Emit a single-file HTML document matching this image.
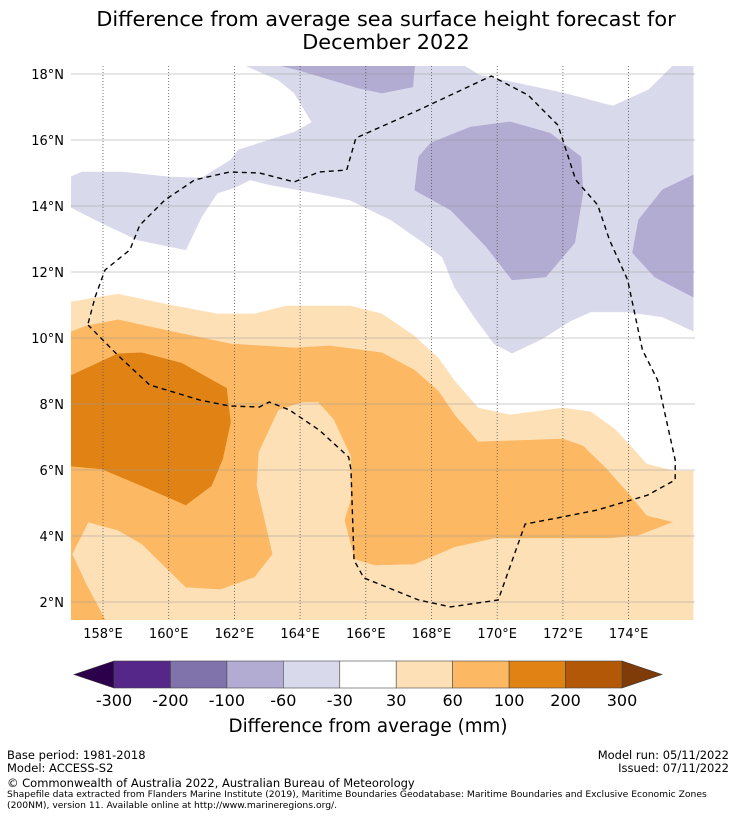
<!DOCTYPE html>
<html><head><meta charset="utf-8">
<style>
body{margin:0;background:#fff;font-family:"DejaVu Sans","Liberation Sans",sans-serif;}
#wrap{position:relative;width:736px;height:816px;overflow:hidden;}
.t{position:absolute;white-space:nowrap;color:#000;}
</style></head>
<body>
<div id="wrap">
<div class="t" style="left:0;width:772px;top:8px;text-align:center;font-size:20.8px;line-height:23px;">Difference from average sea surface height forecast for<br>December 2022</div>
<svg id="map" width="736" height="816" style="position:absolute;left:0;top:0"></svg>
<div class="t" style="left:0;width:736px;top:716px;text-align:center;font-size:18.3px;">Difference from average (mm)</div>
<div class="t" style="left:7px;top:748px;font-size:11.5px;">Base period: 1981-2018</div>
<div class="t" style="left:7px;top:761px;font-size:11.5px;">Model: ACCESS-S2</div>
<div class="t" style="right:7px;top:748px;font-size:11.5px;text-align:right;">Model run: 05/11/2022</div>
<div class="t" style="right:7px;top:761px;font-size:11.5px;text-align:right;">Issued: 07/11/2022</div>
<div class="t" style="left:7px;top:776px;font-size:11.5px;">© Commonwealth of Australia 2022, Australian Bureau of Meteorology</div>
<div class="t" style="left:7px;top:790px;font-size:9.2px;line-height:10.5px;">Shapefile data extracted from Flanders Marine Institute (2019), Maritime Boundaries Geodatabase: Maritime Boundaries and Exclusive Economic Zones<br>(200NM), version 11. Available online at http://www.marineregions.org/.</div>
</div>
<script>
const lonTicks=[158,160,162,164,166,168,170,172,174];
const latTicks=[2,4,6,8,10,12,14,16,18];
const levels=["-300","-200","-100","-60","-30","30","60","100","200","300"];
const levelColors=["#542788","#8073ac","#b2abd2","#d8daeb","#ffffff","#fee0b6","#fdb863","#e08214","#b35806"];
const lavender=[[162.30,18.27],[168.97,18.27],[169.45,17.97],[172.03,17.42],[173.52,17.03],[174.61,17.52],[175.33,18.24],[175.97,18.24],[175.97,10.21],[175.03,10.64],[173.94,10.79],[172.85,10.79],[172.24,10.52],[171.36,9.97],[170.45,9.54],[169.91,9.82],[169.30,10.64],[168.70,11.54],[168.33,12.45],[167.73,12.91],[166.76,13.58],[165.52,14.18],[164.30,14.42],[163.09,14.64],[162.48,14.79],[162.00,14.55],[161.48,14.39],[161.00,13.67],[160.52,12.67],[159.06,12.97],[157.97,13.48],[157.0,13.97],[157.0,14.88],[157.36,15.03],[158.58,15.03],[160.03,14.88],[161.00,14.85],[161.88,15.39],[162.12,15.70],[163.82,16.24],[164.36,16.54],[163.82,17.42],[163.33,17.82]];
const purpleTop=[[163.33,18.27],[167.49,18.27],[167.43,17.61],[166.49,17.42],[165.76,17.58],[163.94,18.12]];
const purpleMid=[[167.61,15.49],[167.97,15.91],[169.18,16.39],[170.39,16.55],[171.61,16.21],[172.55,15.49],[172.61,14.39],[172.36,12.88],[171.48,11.85],[170.45,11.76],[169.67,12.76],[168.58,13.88],[167.49,14.48]];
const purpleRight=[[175.97,14.94],[175.03,14.49],[174.30,13.58],[174.12,12.58],[174.79,11.85],[175.97,11.24]];
const lightOrange=[[157.0,11.09],[158.45,11.33],[160.03,11.00],[161.48,10.73],[162.61,10.73],[163.58,10.97],[165.52,10.97],[166.49,10.73],[167.48,10.06],[168.21,9.39],[168.70,8.70],[169.42,7.88],[170.39,7.67],[172.00,7.88],[172.85,7.76],[173.58,7.24],[174.06,6.73],[174.55,6.18],[175.39,5.97],[175.97,5.97],[175.97,1.30],[157.0,1.30]];
const orange=[[157.0,10.18],[157.48,10.36],[158.45,10.55],[160.03,10.21],[161.88,9.82],[163.82,9.70],[164.91,9.76],[166.49,9.55],[167.48,9.03],[168.21,8.39],[168.70,7.67],[169.42,6.85],[172.00,6.94],[172.61,6.73],[173.33,6.03],[174.06,5.21],[174.55,4.61],[175.33,4.42],[174.30,4.03],[173.45,3.94],[169.91,3.94],[168.70,3.67],[167.48,3.15],[166.27,3.12],[165.67,3.30],[165.36,4.48],[165.55,5.09],[165.55,6.42],[165.03,7.54],[164.55,8.06],[164.06,8.06],[163.33,7.82],[162.73,6.54],[162.67,5.52],[163.15,3.45],[162.61,2.76],[161.58,2.39],[160.52,2.45],[159.18,3.76],[158.45,4.18],[157.55,4.42],[157.06,3.45],[157.48,2.55],[158.15,1.30],[157.0,1.30]];
const darkOrange=[[157.0,8.85],[158.45,9.52],[159.18,9.55],[160.39,9.24],[161.76,8.48],[161.88,7.45],[161.64,6.33],[161.30,5.52],[160.52,4.94],[159.18,5.52],[157.97,6.03],[157.0,6.12]];
const eez=[[157.55,10.45],[157.76,11.24],[158.06,12.06],[158.82,12.67],[159.12,13.42],[159.88,14.18],[160.79,14.79],[161.85,15.03],[162.76,15.00],[163.82,14.73],[164.58,15.03],[165.42,15.09],[165.70,16.06],[167.61,16.91],[169.82,17.94],[170.94,17.36],[171.85,16.45],[172.39,14.79],[173.06,14.03],[173.42,12.97],[173.97,11.76],[174.42,9.64],[174.88,8.73],[175.42,6.30],[175.42,5.70],[174.58,5.24],[173.06,4.79],[171.85,4.55],[170.85,4.36],[170.03,2.06],[168.58,1.85],[167.61,2.06],[165.94,2.73],[165.64,3.27],[165.55,6.00],[165.48,6.39],[164.58,7.21],[163.67,7.82],[163.06,8.06],[162.76,7.91],[161.85,7.94],[160.94,8.12],[159.42,8.58],[158.45,9.48],[157.55,10.39]];

const NS="http://www.w3.org/2000/svg";
const FONT='DejaVu Sans, Liberation Sans, sans-serif';
const svg=document.getElementById('map');
const X0=71,X1=695,Y0=66,Y1=620;
const xS=lon=>103+(lon-158)*32.85;
const yS=lat=>74+(18-lat)*33.0;
function mk(tag,attrs,parent){const e=document.createElementNS(NS,tag);for(const k in attrs)e.setAttribute(k,attrs[k]);(parent||svg).appendChild(e);return e;}
const defs=mk('defs',{});
const cp=mk('clipPath',{id:'clip'},defs);
mk('rect',{x:X0,y:Y0,width:X1-X0,height:Y1-Y0},cp);
const g=mk('g',{'clip-path':'url(#clip)'});


function poly(pts,fill,name){
  const p=mk('polygon',{points:pts.map(d=>xS(d[0]).toFixed(1)+','+yS(d[1]).toFixed(1)).join(' '),fill:fill,stroke:fill,'stroke-width':0.5},g);
  
  
}
poly(lavender,levelColors[3],'contour-minus60-minus30');
poly(purpleTop,levelColors[2],'contour-minus100-minus60-north');
poly(purpleMid,levelColors[2],'contour-minus100-minus60-central');
poly(purpleRight,levelColors[2],'contour-minus100-minus60-east');
poly(lightOrange,levelColors[5],'contour-30-60');
poly(orange,levelColors[6],'contour-60-100');
poly(darkOrange,levelColors[7],'contour-100-200');
lonTicks.forEach(lon=>{
  const l=mk('line',{x1:xS(lon),x2:xS(lon),y1:Y0,y2:Y1,stroke:'#555','stroke-width':0.8,'stroke-dasharray':'1,2'},g);
  
  
  const t=mk('text',{x:xS(lon),y:638,'text-anchor':'middle','font-size':13,'font-family':FONT});
  t.textContent=lon+'°E';
  
  
});
latTicks.forEach(lat=>{
  const l=mk('line',{x1:X0,x2:X1,y1:yS(lat),y2:yS(lat),stroke:'#999','stroke-width':0.5},g);
  
  
  const t=mk('text',{x:64,y:yS(lat)+5,'text-anchor':'end','font-size':13,'font-family':FONT});
  t.textContent=lat+'°N';
  
  
});
const e=mk('polyline',{points:eez.map(d=>xS(d[0]).toFixed(1)+','+yS(d[1]).toFixed(1)).join(' '),fill:'none',stroke:'#000','stroke-width':1.4,'stroke-dasharray':'5,4'},g);


const cbX0=114,cbX1=622,cbY=661,cbH=27,cw=(cbX1-cbX0)/levelColors.length;
const lt=mk('polygon',{points:`${cbX0},${cbY} 74,${cbY+cbH/2} ${cbX0},${cbY+cbH}`,fill:'#2d004b',stroke:'#333','stroke-width':0.6});


const rt=mk('polygon',{points:`${cbX1},${cbY} 662,${cbY+cbH/2} ${cbX1},${cbY+cbH}`,fill:'#7f3b08',stroke:'#333','stroke-width':0.6});


levelColors.forEach((c,i)=>{
  const r=mk('rect',{x:cbX0+i*cw,y:cbY,width:cw,height:cbH,fill:c,stroke:'#444','stroke-width':0.6});
  
  
});
levels.forEach((s,i)=>{
  const t=mk('text',{x:cbX0+i*cw,y:706,'text-anchor':'middle','font-size':16,'font-family':FONT});
  t.textContent=s;
  
  
});
</script>
</body></html>
